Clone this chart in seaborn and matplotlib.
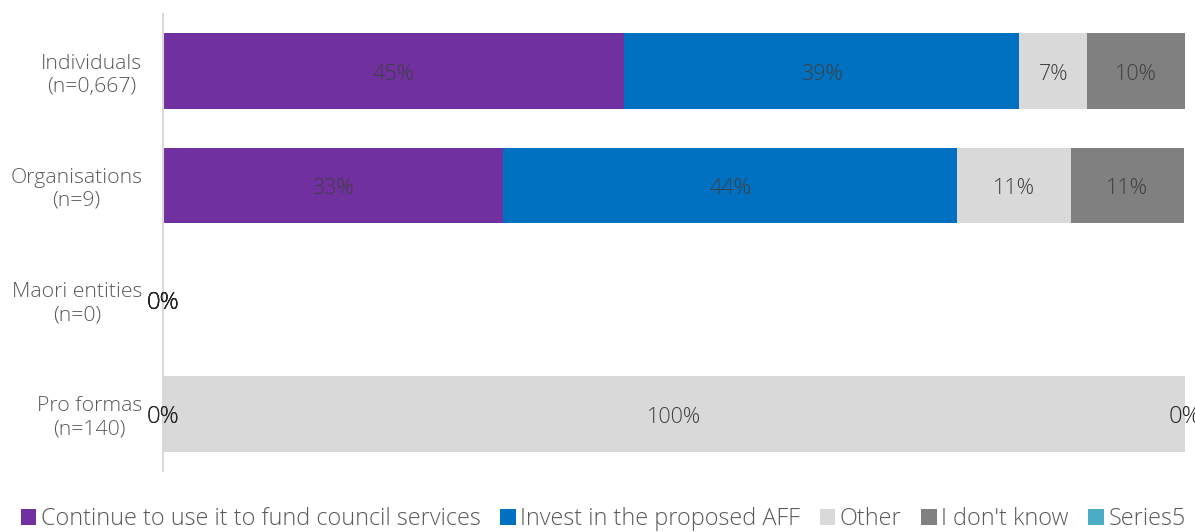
import matplotlib
matplotlib.use("Agg")
import matplotlib.pyplot as plt
import seaborn as sns
import pandas as pd
import numpy as np
from matplotlib.patches import Patch

categories = ["Individuals\n(n=0,667)", "Organisations\n(n=9)", "Maori entities\n(n=0)", "Pro formas\n(n=140)"]
series = ["Continue to use it to fund council services", "Invest in the proposed AFF", "Other", "I don't know", "Series5"]
continue_vals = [45.1, 33.3, 0.0, 0.0]
invest_vals = [38.7, 44.4, 0.0, 0.0]
other_vals = [6.6, 11.1, 0.0, 100.0]
dontknow_vals = [9.6, 11.1, 0.0, 0.0]
series5_vals = [0.0, 0.0, 0.0, 0.0]
colors = ["#7030A0", "#0070C0", "#D9D9D9", "#808080", "#4BACC6"]

sns.set_theme(style="white")
plt.rcParams['font.family'] = ['Open Sans', 'DejaVu Sans']
plt.rcParams['font.weight'] = 'light'

vals = np.array([continue_vals, invest_vals, other_vals, dontknow_vals, series5_vals])
cum = np.cumsum(vals, axis=0)

fig = plt.figure(figsize=(11.95, 5.32), dpi=100)
ax = fig.add_axes([0.1364, 0.1147, 0.8552, 0.859])

# overlay cumulative bars from longest to shortest
for i in range(len(series) - 1, -1, -1):
    df = pd.DataFrame({"cat": categories, "val": cum[i]})
    sns.barplot(data=df, y="cat", x="val", order=categories, color=colors[i],
                width=0.66, ax=ax, saturation=1, linewidth=0, orient="h")

# data labels
for i in range(len(series) - 1):
    for j, cat in enumerate(categories):
        v = vals[i, j]
        left = cum[i, j] - v
        zero = v == 0
        ax.text(left + v / 2, j + 0.03, f"{round(v):.0f}%", ha="center", va="center",
                fontsize=17 if zero else 15.5, color="#262626" if zero else "#404040",
                fontweight="light", clip_on=False)

ax.set_xlim(0, 100)
ax.set_ylim(3.5, -0.5)
ax.set_xlabel("")
ax.set_ylabel("")
ax.set_xticks([])
for s in ["top", "right", "bottom"]:
    ax.spines[s].set_visible(False)
ax.spines["left"].set_color("#D9D9D9")
ax.spines["left"].set_linewidth(1.5)
ax.tick_params(axis="y", length=0, pad=15, labelsize=15.3, labelcolor="#595959")
for lab in ax.get_yticklabels():
    lab.set_ha("right")
    lab.set_multialignment("center")
    lab.set_fontweight("light")

handles = [Patch(facecolor=c, edgecolor="none") for c in colors]
fig.legend(handles, series, loc="lower left", bbox_to_anchor=(0.0, -0.038), ncol=5,
           frameon=False, fontsize=16.8, handlelength=0.65, handleheight=0.65,
           handletextpad=0.2, columnspacing=0.85, labelcolor="#595959")

fig.savefig("out.png", dpi=100)
